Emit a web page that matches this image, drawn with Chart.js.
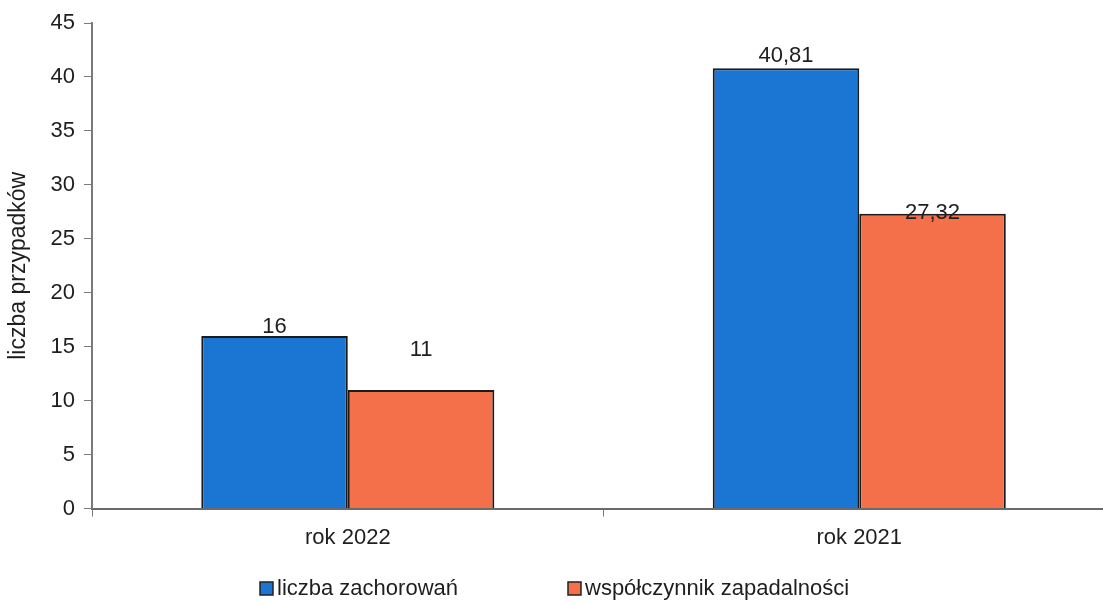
<!DOCTYPE html>
<html>
<head>
    <meta charset="utf-8">
    <title>Zachorowania</title>
    <script src="https://cdn.jsdelivr.net/npm/chart.js"></script>
    <style>
        html, body { margin: 0; padding: 0; background: #fff; overflow: hidden; }
        #wrap { width: 1120px; height: 604px; }
    </style>
</head>
<body>
    <div id="wrap"><canvas id="incChart" width="1120" height="604"></canvas></div>
    <script>
        const years = ['rok 2022', 'rok 2021'];
        const seriesNames = ['liczba zachorowań', 'współczynnik zapadalności'];
        const cases = [16, 40.81];
        const incidence = [11, 27.32];
        const yTicks = [0, 5, 10, 15, 20, 25, 30, 35, 40, 45];

        const FONT = 'Liberation Sans, Arial, sans-serif';
        const TEXT = '#1e1e1e';

        // how far above each bar top the value label sits (as in the original)
        const labelLift = [[9, 12], [40, 1]];

        const valueLabels = {
            id: 'valueLabels',
            afterDatasetsDraw(chart) {
                const ctx = chart.ctx;
                ctx.save();
                ctx.font = '22px ' + FONT;
                ctx.fillStyle = TEXT;
                ctx.textAlign = 'center';
                ctx.textBaseline = 'middle';
                chart.data.datasets.forEach((ds, i) => {
                    chart.getDatasetMeta(i).data.forEach((bar, j) => {
                        const txt = String(ds.data[j]).replace('.', ',');
                        ctx.fillText(txt, bar.x, bar.y - labelLift[i][j]);
                    });
                });
                ctx.restore();
            }
        };

        const bottomLegend = {
            id: 'bottomLegend',
            afterDraw(chart) {
                const ctx = chart.ctx;
                const xs = [260, 568];
                const y = 589;
                ctx.save();
                ctx.font = '22px ' + FONT;
                ctx.textBaseline = 'middle';
                chart.data.datasets.forEach((ds, i) => {
                    ctx.fillStyle = ds.backgroundColor;
                    ctx.fillRect(xs[i], y - 7, 13, 13);
                    ctx.strokeStyle = '#222';
                    ctx.lineWidth = 1.5;
                    ctx.strokeRect(xs[i], y - 7, 13, 13);
                    ctx.fillStyle = TEXT;
                    ctx.fillText(ds.label, xs[i] + 17, y);
                });
                ctx.restore();
            }
        };

        new Chart(document.getElementById('incChart').getContext('2d'), {
            type: 'bar',
            data: {
                labels: years,
                datasets: [
                    {
                        label: seriesNames[0],
                        data: cases,
                        backgroundColor: '#1a76d2',
                        borderColor: '#1b1b1b',
                        borderWidth: 2,
                        categoryPercentage: 0.573,
                        barPercentage: 1
                    },
                    {
                        label: seriesNames[1],
                        data: incidence,
                        backgroundColor: '#f4704a',
                        borderColor: '#1b1b1b',
                        borderWidth: 2,
                        categoryPercentage: 0.573,
                        barPercentage: 1
                    }
                ]
            },
            options: {
                responsive: false,
                animation: false,
                layout: { padding: { top: 23, right: 5, bottom: 45, left: 5 } },
                plugins: {
                    legend: { display: false },
                    tooltip: { enabled: false }
                },
                scales: {
                    x: {
                        grid: {
                            offset: true,
                            drawOnChartArea: false,
                            color: '#7a7a7a',
                            tickLength: 8
                        },
                        border: { color: '#6a6a6a', width: 2 },
                        ticks: { color: TEXT, font: { family: FONT, size: 22 }, padding: 8 }
                    },
                    y: {
                        min: 0,
                        max: 45,
                        afterBuildTicks(scale) {
                            scale.ticks = yTicks.map(v => ({ value: v }));
                        },
                        grid: {
                            drawOnChartArea: false,
                            color: '#7a7a7a',
                            tickLength: 8
                        },
                        border: { color: '#7a7a7a', width: 2 },
                        ticks: { color: TEXT, font: { family: FONT, size: 22 }, padding: 9 },
                        title: {
                            display: true,
                            text: 'liczba przypadków',
                            color: TEXT,
                            font: { family: FONT, size: 23 },
                            padding: { top: 0, bottom: 9 }
                        }
                    }
                }
            },
            plugins: [valueLabels, bottomLegend]
        });
    </script>
</body>
</html>
